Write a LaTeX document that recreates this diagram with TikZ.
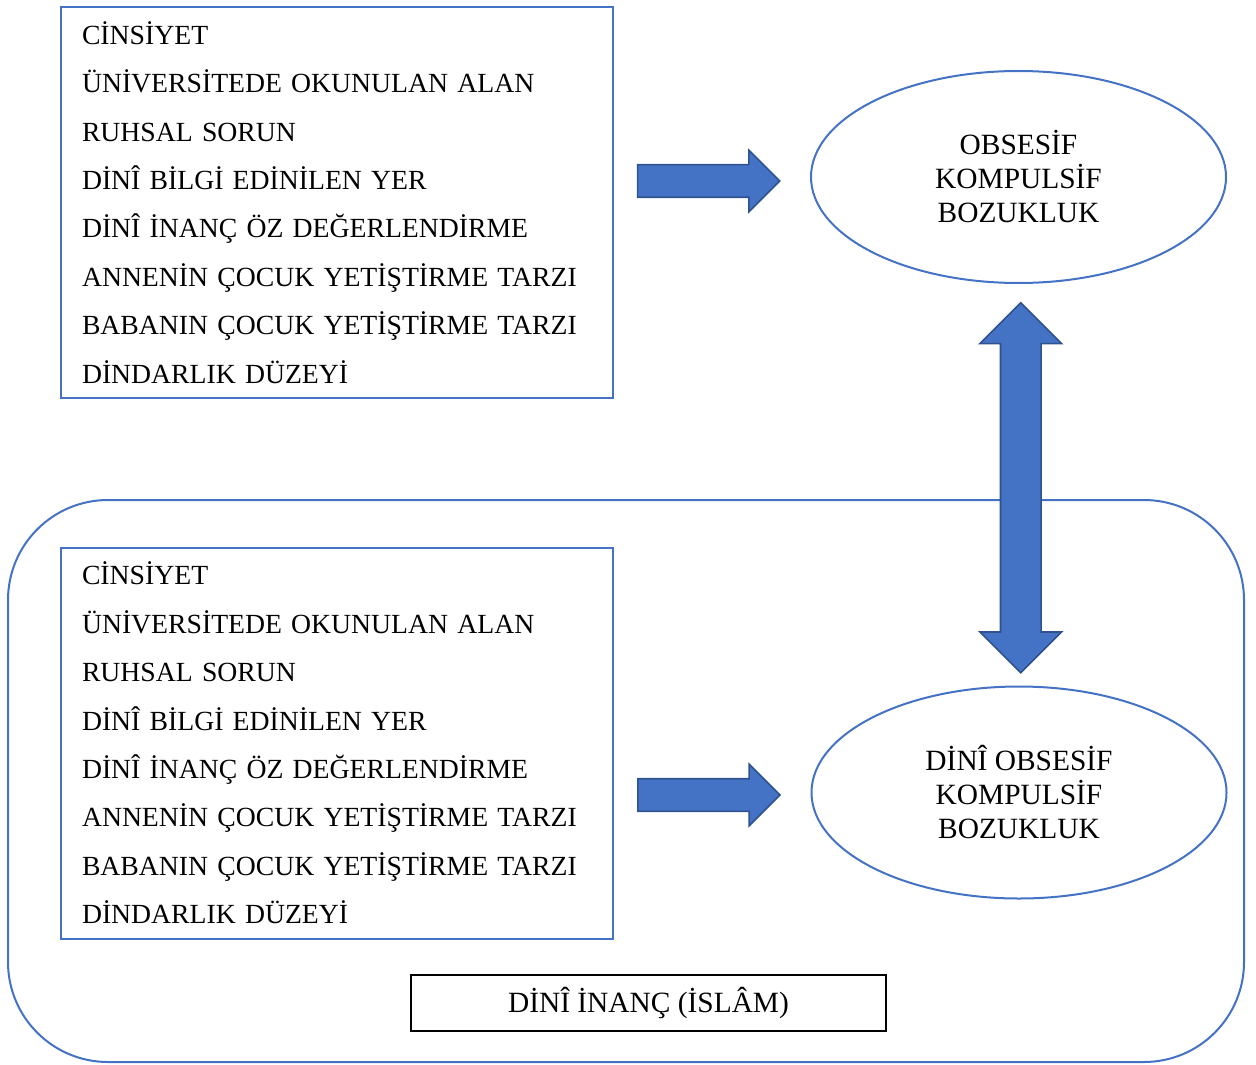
\documentclass[tikz,border=0pt]{standalone}
\usepackage{fontspec}
\setmainfont{Liberation Serif}
\usetikzlibrary{shapes.geometric,shapes.arrows,calc}
\definecolor{ofblue}{HTML}{4472C4}
\definecolor{ofdark}{HTML}{2F528F}

\begin{document}
\begin{tikzpicture}[x=0.5pt, y=-0.5pt, line width=1pt,
  listbox/.style={draw=ofblue, rectangle, align=left, text width=255pt,
    inner xsep=10.5pt, minimum width=276pt, minimum height=195.5pt,
    font=\fontsize{13.85}{24.2}\selectfont},
  oval/.style={draw=ofblue, ellipse, minimum width=207.5pt, minimum height=106pt,
    align=center, inner sep=0pt, font=\fontsize{14.7}{17}\selectfont},
  rarrow/.style={single arrow, fill=ofblue, draw=ofdark, line width=0.8pt,
    minimum height=71pt, minimum width=30pt, inner sep=7.75pt,
    single arrow head extend=7.25pt},
  udarrow/.style={double arrow, fill=ofblue, draw=ofdark, line width=0.8pt,
    rotate=90, minimum height=185pt, minimum width=40pt, inner sep=9.75pt,
    double arrow head extend=10.25pt}]
  % 1. Hintergrund: abgerundeter Rahmen
  % 2. Kaesten mit Variablen, Ellipsen
  % 3. Blockpfeile, Beschriftung unten
  \useasboundingbox (0,0) rectangle (1256,1064);

  \node[draw=ofblue, rounded corners=50pt, minimum width=618pt, minimum height=281pt]
    (frame) at (626,781) {};

  \node[listbox] (box1) at (337,202.5) {CİNSİYET\\ÜNİVERSİTEDE OKUNULAN ALAN\\RUHSAL SORUN\\DİNÎ BİLGİ EDİNİLEN YER\\DİNÎ İNANÇ ÖZ DEĞERLENDİRME\\ANNENİN ÇOCUK YETİŞTİRME TARZI\\BABANIN ÇOCUK YETİŞTİRME TARZI\\DİNDARLIK DÜZEYİ};
  \node[listbox] (box2) at (337,743) {CİNSİYET\\ÜNİVERSİTEDE OKUNULAN ALAN\\RUHSAL SORUN\\DİNÎ BİLGİ EDİNİLEN YER\\DİNÎ İNANÇ ÖZ DEĞERLENDİRME\\ANNENİN ÇOCUK YETİŞTİRME TARZI\\BABANIN ÇOCUK YETİŞTİRME TARZI\\DİNDARLIK DÜZEYİ};

  \node[oval] (okb) at (1018.5,177) {OBSESİF\\KOMPULSİF\\BOZUKLUK};
  \node[oval] (dokb) at (1019,792.5) {DİNÎ OBSESİF\\KOMPULSİF\\BOZUKLUK};

  \node[rarrow] (arr1) at ($(okb.west)!0.5!(okb.west -| box1.east)+(-5.75pt,-2pt)$) {};
  \node[rarrow] (arr2) at ($(dokb.west)!0.5!(dokb.west -| box2.east)+(-5.75pt,-1.25pt)$) {};
  \node[udarrow] (arr3) at ($(okb.south)!0.5!(dokb.north)+(1pt,-1.5pt)$) {};

  \node[draw, line width=0.7pt, minimum width=237.5pt, minimum height=28pt,
    font=\fontsize{14.7}{17}\selectfont] (inanc) at (648.5,1003) {DİNÎ İNANÇ (İSLÂM)};
\end{tikzpicture}
\end{document}
